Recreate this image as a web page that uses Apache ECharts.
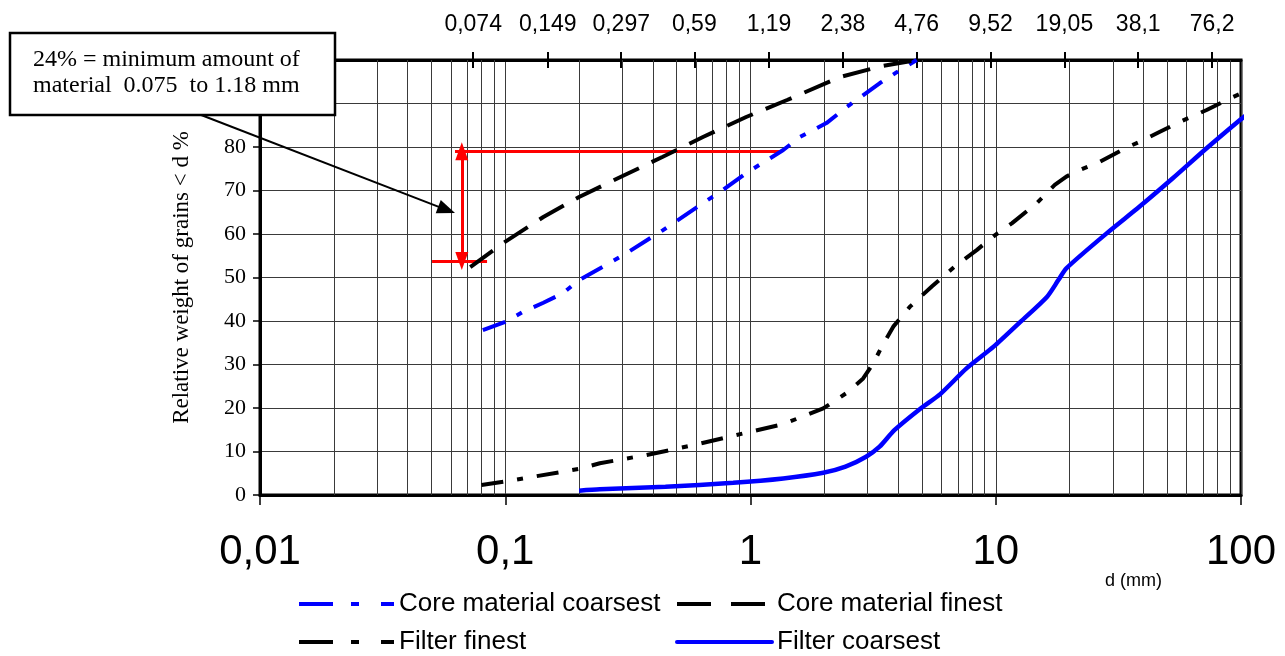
<!DOCTYPE html>
<html><head><meta charset="utf-8">
<script src="https://cdn.jsdelivr.net/npm/echarts@6/dist/echarts.min.js"></script>
<style>html,body{margin:0;padding:0;background:#fff}#c{width:1285px;height:656px}</style>
</head><body><div id="c"></div>
<script>
// ---- data (grain size d in mm, percent passing) ----
const coreCoarsestD = [0.081, 0.1, 0.118, 0.143, 0.172, 0.2, 0.3, 0.44, 0.64, 0.77, 0.96, 1.17, 1.36, 1.59, 2.04, 2.47, 3.37, 3.95, 4.76];
const coreCoarsestP = [37.9, 39.8, 42.1, 44.2, 46.4, 49.4, 55.0, 60.9, 67.1, 70.1, 74.0, 77.0, 79.3, 82.3, 85.5, 89.2, 94.7, 97.2, 100];

const coreFinestD = [0.072, 0.098, 0.143, 0.2, 0.295, 0.437, 0.5, 0.64, 0.96, 1.41, 2.32, 3.37, 4.76];
const coreFinestP = [52.4, 57.9, 63.9, 68.5, 73.1, 77.7, 79.3, 82.3, 86.9, 90.8, 96.1, 98.5, 100];

const filterFinestD = [0.08, 0.1, 0.2, 0.243, 0.377, 0.567, 0.878, 1.36, 1.98, 2.5, 2.88, 3.17, 3.43, 3.82, 4.47, 5.5, 6.93, 8.36, 9.97, 11.66, 14.7, 17.4, 19.4, 22, 26.6, 34.2, 38.7, 46.7, 56.4, 72.4, 87.4, 107];
const filterFinestP = [2.3, 3.1, 6.0, 7.3, 9.2, 11.3, 13.8, 16.3, 19.9, 23.7, 26.8, 30.3, 34.1, 38.7, 43.3, 48.0, 52.9, 56.3, 59.8, 62.5, 67.1, 71.3, 73.2, 74.7, 76.6, 79.9, 81.2, 83.5, 85.8, 88.5, 90.8, 93.1];

const filterCoarsestD = [0.2, 0.243, 0.45, 0.85, 1.36, 1.98, 2.44, 2.96, 3.36, 3.86, 4.94, 5.94, 7.6, 9.8, 12.6, 16.2, 18.0, 19.4, 28.4, 38.6, 52.7, 72.4, 99, 107];
const filterCoarsestP = [1.0, 1.3, 1.9, 2.8, 3.8, 5.1, 6.5, 8.8, 11.1, 14.9, 19.9, 23.2, 29.1, 34.1, 39.8, 45.6, 49.4, 52.1, 60.2, 66.3, 72.8, 79.7, 86.2, 87.7];

// top axis (sieve sizes)
const topTickValues = [0.074, 0.149, 0.297, 0.59, 1.19, 2.38, 4.76, 9.52, 19.05, 38.1, 76.2];
const topTickLabels = ['0,074', '0,149', '0,297', '0,59', '1,19', '2,38', '4,76', '9,52', '19,05', '38,1', '76,2'];
// bottom axis labels (decades 0.01 .. 100)
const bottomTickLabels = ['0,01', '0,1', '1', '10', '100'];
const decades = [0.01, 0.1, 1, 10];
const minorMultipliers = [2, 3, 4, 5, 6, 7, 8, 9];

// annotation (24% range)
const rangeLowP = 53.8, rangeHighP = 79;
const rangeTopLineD = [0.0624, 1.34];
const rangeBottomLineD = [0.0503, 0.0843];
const rangeArrowD = 0.0665;
const calloutTip = [0.0624, 64.8];
const calloutText = '24% = minimum amount of\nmaterial  0.075  to 1.18 mm';

// ---- chart ----
const pairs = (d, p) => d.map((x, i) => [x, p[i]]);
const minorGridValues = [];
decades.forEach(dec => minorMultipliers.forEach(m => minorGridValues.push(+(dec * m).toPrecision(6))));

const SANS = 'Liberation Sans, Arial, sans-serif';
const SERIF = 'Liberation Serif, Times New Roman, serif';
const GRID = '#3a3a3a';
const NONE = 'rgba(0,0,0,0)';

const topFmt = v => {
  const i = topTickValues.findIndex(t => Math.abs(t - v) / t < 1e-4);
  return i >= 0 ? topTickLabels[i] : '';
};
const botFmt = v => {
  const i = Math.round(Math.log10(v)) + 2;
  return bottomTickLabels[i] !== undefined ? bottomTickLabels[i] : '';
};

const legendCommon = {
  itemWidth: 95, itemHeight: 14, padding: 0, itemGap: 0, selectedMode: false,
  itemStyle: { color: NONE, borderColor: NONE, borderWidth: 0 },
  textStyle: { fontFamily: SANS, fontSize: 26, color: '#000' }
};

const chart = echarts.init(document.getElementById('c'), null, { renderer: 'canvas' });
const option = {
  animation: false,
  backgroundColor: '#fff',
  grid: { left: 260, right: 44, top: 60, bottom: 161, show: true, borderColor: '#000', borderWidth: 3, backgroundColor: 'transparent' },
  legend: [
    Object.assign({}, legendCommon, { data: ['Core material coarsest'], left: 297, top: 591, lineStyle: { type: [34, 18, 8, 22], width: 4 } }),
    Object.assign({}, legendCommon, { data: ['Core material finest'], left: 675, top: 591, lineStyle: { type: [34, 20], width: 4 } }),
    Object.assign({}, legendCommon, { data: ['Filter finest'], left: 297, top: 629, lineStyle: { type: [34, 18, 8, 22], width: 4 } }),
    Object.assign({}, legendCommon, { data: ['Filter coarsest'], left: 675, top: 629, lineStyle: { width: 4, cap: 'round' } })
  ],
  xAxis: [
    {
      type: 'log', logBase: 10, min: 0.01, max: 100, position: 'bottom',
      axisLine: { show: true, lineStyle: { color: '#000', width: 3 } },
      axisTick: { show: true, length: 10, lineStyle: { color: '#000', width: 1.5 } },
      axisLabel: { fontFamily: SANS, fontSize: 42, color: '#000', margin: 36, formatter: botFmt },
      splitLine: { show: true, lineStyle: { color: GRID, width: 1 } }
    },
    {
      type: 'log', logBase: 10, min: 0.01, max: 100, position: 'top',
      axisLine: { show: true, lineStyle: { color: '#000', width: 3 } },
      axisTick: { show: true, customValues: topTickValues, length: 8, lineStyle: { color: '#000', width: 2 } },
      axisLabel: { show: true, customValues: topTickValues, fontFamily: SANS, fontSize: 23, color: '#000', margin: 24, formatter: topFmt },
      splitLine: { show: false }
    },
    {
      type: 'log', logBase: 10, min: 0.01, max: 100, position: 'top',
      axisLine: { show: false },
      axisTick: { show: true, inside: true, customValues: topTickValues, length: 8, lineStyle: { color: '#000', width: 2 } },
      axisLabel: { show: false },
      splitLine: { show: false }
    }
  ],
  yAxis: [{
    type: 'value', min: 0, max: 100, interval: 10, position: 'left',
    name: 'Relative weight of grains < d %', nameLocation: 'middle', nameGap: 67,
    nameTextStyle: { fontFamily: SERIF, fontSize: 23, color: '#000' },
    axisLine: { show: true, lineStyle: { color: '#000', width: 3 } },
    axisTick: { show: true, length: 7, lineStyle: { color: '#000', width: 1.5 } },
    axisLabel: { fontFamily: SERIF, fontSize: 22, color: '#000', margin: 14 },
    splitLine: { show: true, lineStyle: { color: GRID, width: 1 } }
  }],
  series: [
    {
      type: 'line', data: [], silent: true, z: 1,
      markLine: {
        silent: true, symbol: 'none', animation: false, label: { show: false },
        lineStyle: { color: GRID, width: 1, type: 'solid' },
        emphasis: { disabled: true },
        data: minorGridValues.map(v => ({ xAxis: v }))
      }
    },
    {
      name: 'Core material coarsest', type: 'line', data: pairs(coreCoarsestD, coreCoarsestP),
      symbol: 'none', clip: false, z: 5,
      itemStyle: { color: '#0000ff' }, lineStyle: { color: '#0000ff', width: 4, type: [24, 13, 6, 13] }
    },
    {
      name: 'Core material finest', type: 'line', data: pairs(coreFinestD, coreFinestP),
      symbol: 'none', clip: false, z: 5,
      itemStyle: { color: '#000' }, lineStyle: { color: '#000', width: 4, type: [28, 14] }
    },
    {
      name: 'Filter finest', type: 'line', data: pairs(filterFinestD, filterFinestP),
      symbol: 'none', clip: false, z: 5,
      itemStyle: { color: '#000' }, lineStyle: { color: '#000', width: 4, type: [22, 14, 6, 14] }
    },
    {
      name: 'Filter coarsest', type: 'line', data: pairs(filterCoarsestD, filterCoarsestP),
      symbol: 'none', clip: false, z: 5, smooth: 0.25,
      itemStyle: { color: '#0000ff' }, lineStyle: { color: '#0000ff', width: 4.5 }
    },
    {
      type: 'line', data: [], silent: true, z: 4,
      markLine: {
        silent: true, animation: false, label: { show: false }, symbolSize: [13, 18],
        lineStyle: { color: '#ff0000', width: 3, type: 'solid' },
        emphasis: { disabled: true },
        data: [
          [{ coord: [rangeTopLineD[0], rangeHighP], symbol: 'none' }, { coord: [rangeTopLineD[1], rangeHighP], symbol: 'none' }],
          [{ coord: [rangeBottomLineD[0], rangeLowP], symbol: 'none' }, { coord: [rangeBottomLineD[1], rangeLowP], symbol: 'none' }],
          [{ coord: [rangeArrowD, rangeLowP], symbol: 'triangle' }, { coord: [rangeArrowD, rangeHighP], symbol: 'triangle' }]
        ]
      }
    }
  ]
};
chart.setOption(option);

// callout box + arrow (arrow tip placed through the axis scales)
const tip = chart.convertToPixel({ xAxisIndex: 0, yAxisIndex: 0 }, calloutTip);
const start = [196, 113];
const dx = tip[0] - start[0], dy = tip[1] - start[1];
const len = Math.sqrt(dx * dx + dy * dy);
const ux = dx / len, uy = dy / len;
const headL = 18, headW = 7;
const bx = tip[0] - ux * headL, by = tip[1] - uy * headL;
chart.setOption({
  graphic: [
    { type: 'text', left: 1105, top: 572, z: 50, style: { text: 'd (mm)', fontFamily: SANS, fontSize: 18, fill: '#000' } },
    { type: 'line', z: 60, shape: { x1: start[0], y1: start[1], x2: bx + ux * 2, y2: by + uy * 2 }, style: { stroke: '#000', lineWidth: 2 } },
    { type: 'polygon', z: 60, shape: { points: [[tip[0], tip[1]], [bx - uy * headW, by + ux * headW], [bx + uy * headW, by - ux * headW]] }, style: { fill: '#000' } },
    { type: 'rect', z: 100, shape: { x: 10, y: 33, width: 325, height: 82 }, style: { fill: '#fff', stroke: '#000', lineWidth: 2.5 } },
    { type: 'text', z: 101, left: 33, top: 47, style: { text: calloutText, fontFamily: SERIF, fontSize: 24, lineHeight: 26, fill: '#000' } }
  ]
});
</script>
</body></html>
